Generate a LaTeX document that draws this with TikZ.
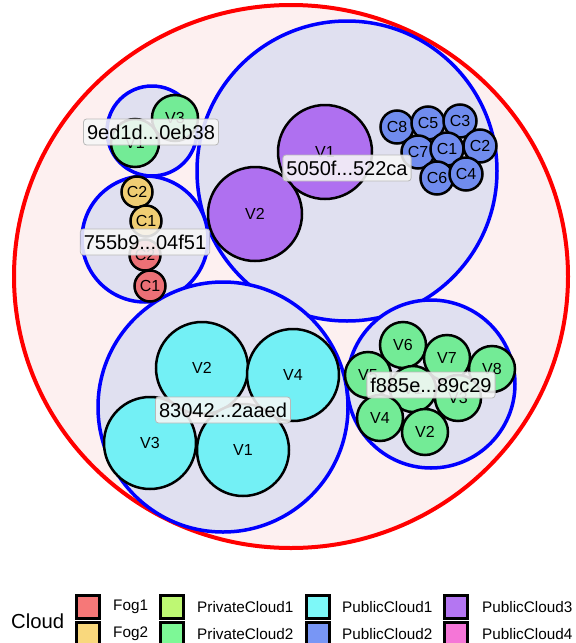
\documentclass[tikz,border=0pt]{standalone}
\usepackage{fontspec}
\usetikzlibrary{shapes.geometric}
\setmainfont{Liberation Sans}
\definecolor{pinkbg}{HTML}{FDF0F0}
\definecolor{lav}{HTML}{E0E0F0}
\definecolor{cred}{HTML}{EC7076}
\definecolor{cyel}{HTML}{F0CD73}
\definecolor{cgrn}{HTML}{73EB96}
\definecolor{ccyan}{HTML}{73F0F5}
\definecolor{cblue}{HTML}{708CEE}
\definecolor{cpurp}{HTML}{AF70F0}
\definecolor{kfogone}{HTML}{F67878}
\definecolor{kfogtwo}{HTML}{F9D87D}
\definecolor{kprivone}{HTML}{BEF873}
\definecolor{kprivtwo}{HTML}{7DF896}
\definecolor{kpubone}{HTML}{7DF8F8}
\definecolor{kpubtwo}{HTML}{7896F5}
\definecolor{kpubthree}{HTML}{B476F2}
\definecolor{kpubfour}{HTML}{F576D7}
\begin{document}
\begin{tikzpicture}[x=1pt,y=-1pt,
  outerc/.style={ellipse, draw=red, line width=4pt, fill=pinkbg, inner sep=0pt},
  grp/.style={circle, draw=blue, line width=3.5pt, fill=lav, inner sep=0pt},
  vm/.style={circle, draw=black, line width=2.5pt, inner sep=0pt, font=\fontsize{16}{18}\selectfont},
  lbl/.style={draw=gray!55, fill=gray!6, fill opacity=0.88, text opacity=1, rounded corners=3pt,
     inner xsep=3.5pt, minimum height=26pt, line width=0.8pt, font=\fontsize{20}{22}\selectfont},
  keybox/.style={draw=black, line width=2.5pt, minimum size=23pt, inner sep=0pt},
  keytext/.style={anchor=west, inner sep=0pt, font=\fontsize{15.3}{17}\selectfont}]
\useasboundingbox (0,0) rectangle (576,643);
% outer cloud
\node[outerc, minimum width=554pt, minimum height=543pt] (cloud) at (291,276.5) {};
% groups
\node[grp, minimum size=300pt] (g5050) at (347,171) {};
\node[grp, minimum size=90pt] (g9ed1) at (152,131) {};
\node[grp, minimum size=126pt] (g755b) at (145,239) {};
\node[grp, minimum size=250pt] (g8304) at (223,407) {};
\node[grp, minimum size=168pt] (gf885) at (431,384) {};
% 5050f
\node[vm, fill=cpurp, minimum size=94pt] (a1) at (325,152) {V1};
\node[vm, fill=cpurp, minimum size=94pt] (a2) at (255,214) {V2};
\node[vm, fill=cblue, minimum size=33pt] (b8) at (397,127) {C8};
\node[vm, fill=cblue, minimum size=33pt] (b5) at (428,123) {C5};
\node[vm, fill=cblue, minimum size=33pt] (b3) at (460,121) {C3};
\node[vm, fill=cblue, minimum size=33pt] (b7) at (418,152) {C7};
\node[vm, fill=cblue, minimum size=33pt] (b1) at (447,149) {C1};
\node[vm, fill=cblue, minimum size=33pt] (b2) at (480,146) {C2};
\node[vm, fill=cblue, minimum size=33pt] (b6) at (437,178) {C6};
\node[vm, fill=cblue, minimum size=33pt] (b4) at (466,174) {C4};
% 9ed1d
\node[vm, fill=cgrn, minimum size=46pt] (d3) at (175,118) {V3};
\node[vm, fill=cgrn, minimum size=48pt] (d1) at (135,143) {V1};
% 755b9
\node[vm, fill=cyel, minimum size=31pt] (e2) at (137,192) {C2};
\node[vm, fill=cyel, minimum size=31pt] (e1) at (146,221) {C1};
\node[vm, fill=cred, minimum size=31pt] (f2) at (145,255) {C2};
\node[vm, fill=cred, minimum size=31pt] (f1) at (150,286) {C1};
% 83042
\node[vm, fill=ccyan, minimum size=92pt] (h2) at (202,368) {V2};
\node[vm, fill=ccyan, minimum size=92pt] (h4) at (293,375) {V4};
\node[vm, fill=ccyan, minimum size=92pt] (h3) at (150,443) {V3};
\node[vm, fill=ccyan, minimum size=92pt] (h1) at (243,450) {V1};
% f885e
\node[vm, fill=cgrn, minimum size=46pt] (k6) at (403,345) {V6};
\node[vm, fill=cgrn, minimum size=46pt] (k7) at (447,358) {V7};
\node[vm, fill=cgrn, minimum size=46pt] (k8) at (492,369) {V8};
\node[vm, fill=cgrn, minimum size=46pt] (k5) at (368,375) {V5};
\node[vm, fill=cgrn, minimum size=46pt] (k1) at (413,389) {V1};
\node[vm, fill=cgrn, minimum size=46pt] (k3) at (458,398) {V3};
\node[vm, fill=cgrn, minimum size=46pt] (k4) at (380,418) {V4};
\node[vm, fill=cgrn, minimum size=46pt] (k2) at (425,432) {V2};
% labels
\node[lbl] (l9ed1) at (151,132) {9ed1d...0eb38};
\node[lbl] (l755b) at (145,242) {755b9...04f51};
\node[lbl] (l5050) at (347,168) {5050f...522ca};
\node[lbl] (l8304) at (223,410) {83042...2aaed};
\node[lbl] (lf885) at (431,385) {f885e...89c29};
% legend
\node[anchor=west, inner sep=0pt, font=\fontsize{20.3}{22}\selectfont] (ltitle) at (11,621) {Cloud};
\node[keybox, fill=kfogone] (kf1) at (88,607) {};
\node[keybox, fill=kfogtwo] (kf2) at (88,634) {};
\node[keybox, fill=kprivone] (kp1) at (172,607) {};
\node[keybox, fill=kprivtwo] (kp2) at (172,634) {};
\node[keybox, fill=kpubone] (ku1) at (318,607) {};
\node[keybox, fill=kpubtwo] (ku2) at (318,634) {};
\node[keybox, fill=kpubthree] (ku3) at (456,607) {};
\node[keybox, fill=kpubfour] (ku4) at (456,634) {};
\node[keytext] (tf1) at (113,607) {Fog1};
\node[keytext] (tf2) at (113,634) {Fog2};
\node[keytext] (tp1) at (197,607) {PrivateCloud1};
\node[keytext] (tp2) at (197,634) {PrivateCloud2};
\node[keytext] (tu1) at (342,607) {PublicCloud1};
\node[keytext] (tu2) at (342,634) {PublicCloud2};
\node[keytext] (tu3) at (482,607) {PublicCloud3};
\node[keytext] (tu4) at (482,634) {PublicCloud4};
\end{tikzpicture}
\end{document}
